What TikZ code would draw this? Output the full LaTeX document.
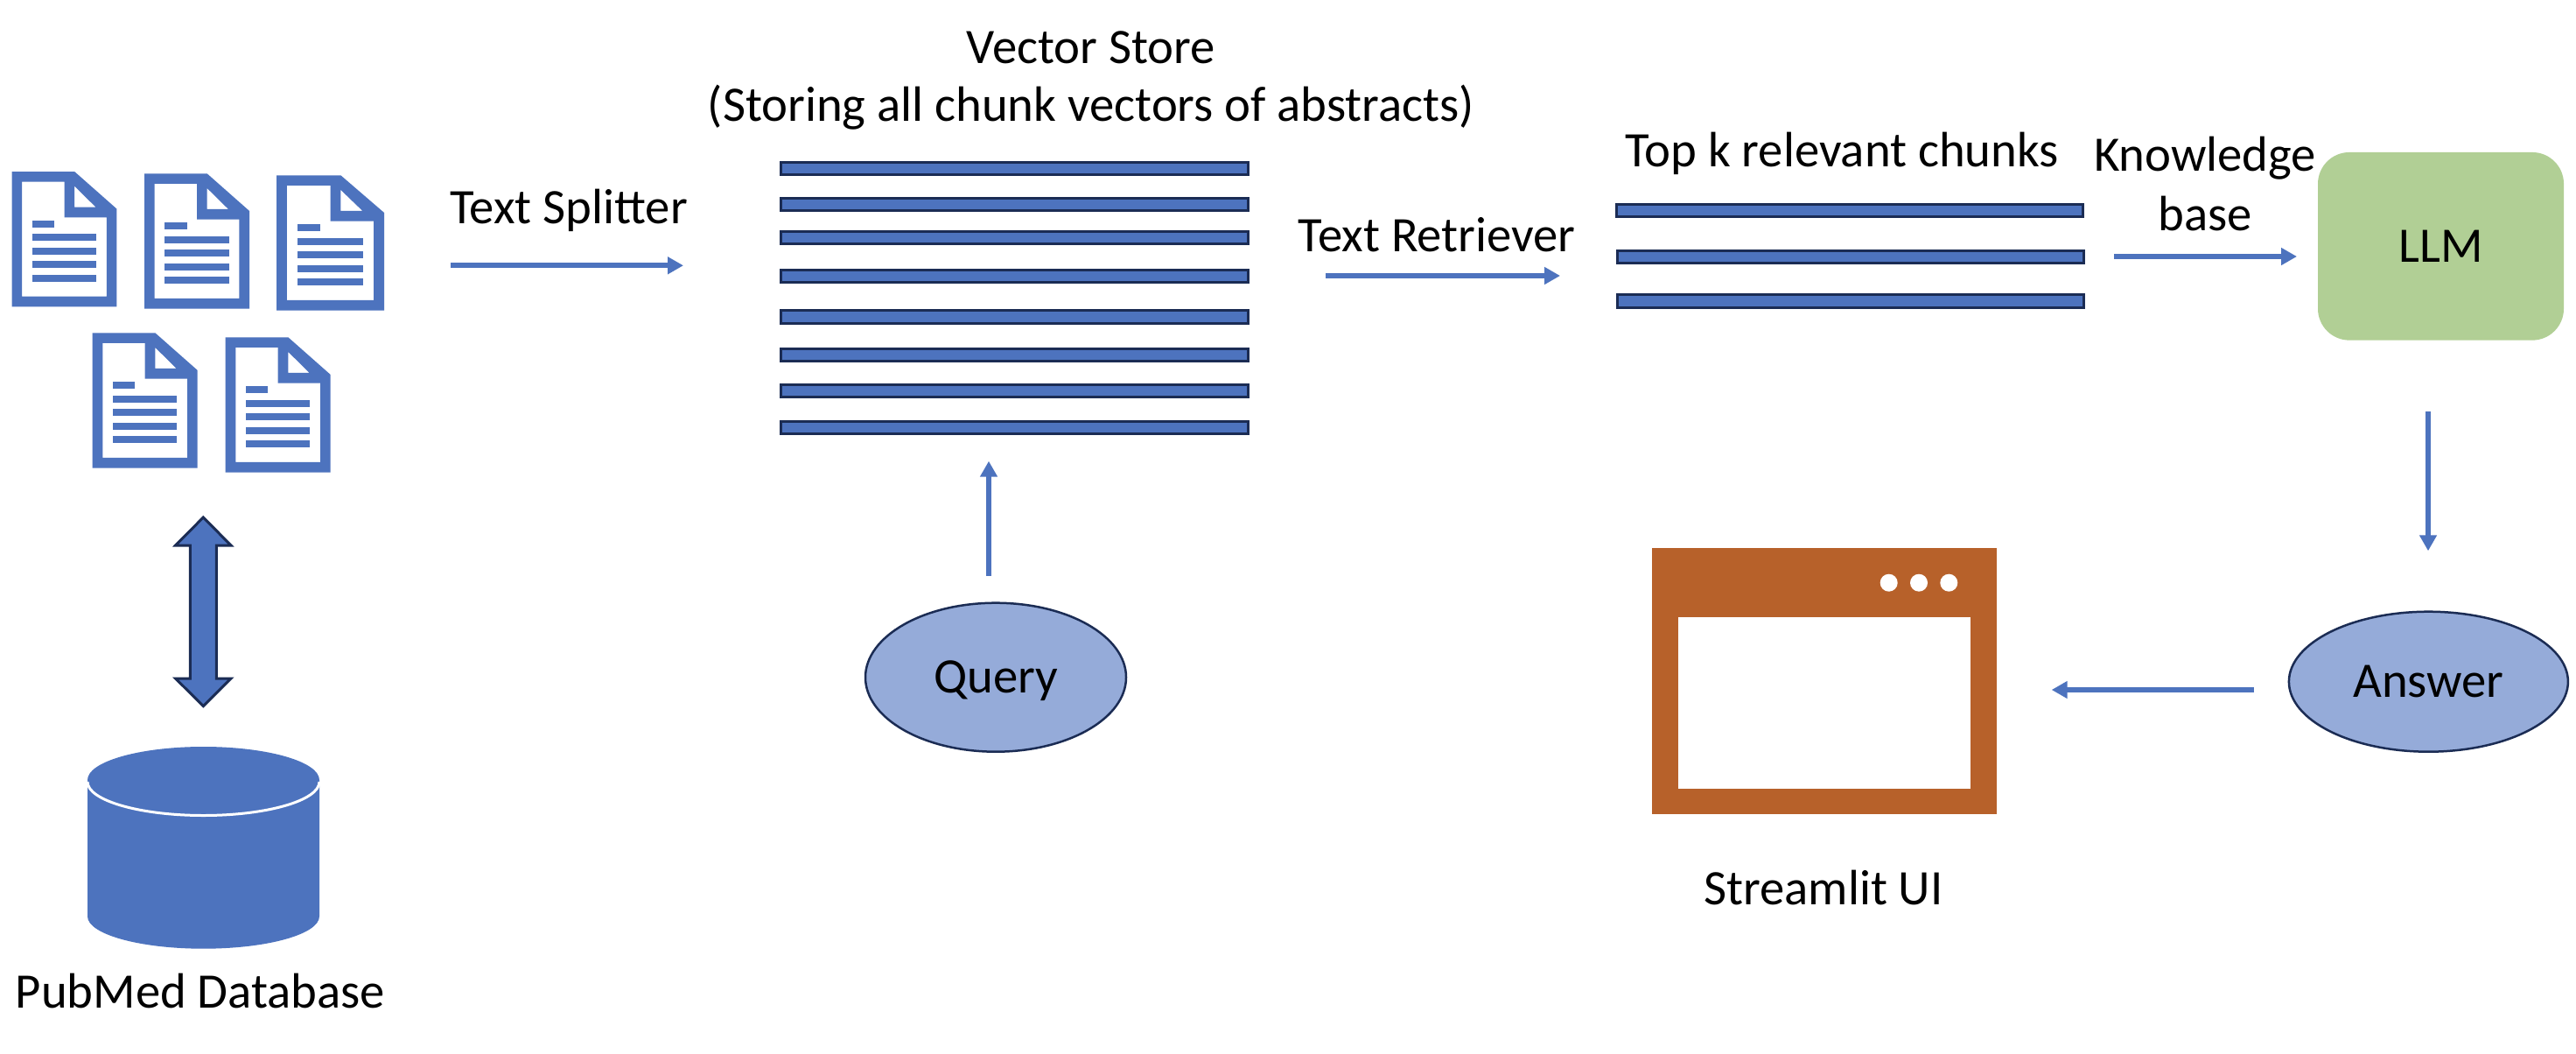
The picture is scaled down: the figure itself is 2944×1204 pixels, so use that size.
\documentclass[tikz,border=0pt]{standalone}
\usepackage{fontspec}
\setmainfont{Carlito}
\usetikzlibrary{arrows.meta,shapes.geometric}
\definecolor{fillblue}{HTML}{4D73BE}
\definecolor{darkedge}{HTML}{1B2C54}
\definecolor{paleblue}{HTML}{95ABD9}
\definecolor{llmgreen}{HTML}{B1CF95}
\definecolor{uibrown}{HTML}{B7612A}
\tikzset{
  lbl/.style={anchor=base,inner sep=0pt,text=black,font=\fontsize{56.7}{67}\selectfont},
  chunkbar/.style={draw=darkedge,line width=2.8pt,fill=fillblue,rectangle,inner sep=0pt,minimum width=534pt,minimum height=14.5pt},
  flow/.style={draw=fillblue,line width=6pt,-{Triangle[length=18pt,width=19pt]}},
  bubble/.style={ellipse,draw=darkedge,line width=2.5pt,fill=paleblue,inner sep=0pt,text=black,font=\fontsize{56.7}{67}\selectfont,text height=36pt,text depth=0pt},
  docicon/.pic={
    \begin{scope}[x=.33333pt,y=-.33333pt]
      \fill[fillblue,even odd rule] (0,0)--(215,0)--(360,128)--(360,463)--(0,463)--cycle
        (35,35)--(180,35)--(180,157)--(325,157)--(325,428)--(35,428)--cycle
        (215,50)--(215,122)--(288,122)--cycle;
      \fill[fillblue] (70,168) rectangle (146,192);
      \foreach \yy in {214,261,307,353}{\fill[fillblue] (70,\yy) rectangle (290,\yy+24);}
    \end{scope}
  }
}
\begin{document}
\begin{tikzpicture}[x=1pt,y=-1pt]
\useasboundingbox (0,0) rectangle (2944,1204);
\fill[white] (0,0) rectangle (2944,1204);

% document icons
\pic at (13.5,196) {docicon};
\pic at (165,198.3) {docicon};
\pic[xscale=1.025] at (316,200.3) {docicon};
\pic at (105.7,380.3) {docicon};
\pic at (257.7,385.3) {docicon};

% double arrow
\draw[fill=fillblue,draw=darkedge,line width=3pt,miter limit=10]
  (232.3,591)--(264,623)--(247.3,623)--(247.3,775)--(264,775)--(232.3,806.6)
  --(200.6,775)--(217.3,775)--(217.3,623)--(200.6,623)--cycle;

% database
\fill[fillblue] (100,891) -- (365,891)
  -- (365,1046.7) arc[start angle=0,end angle=180,x radius=132.5,y radius=37] -- cycle;
\fill[fillblue] (232.5,891) ellipse[x radius=132.5,y radius=38];
\draw[white,line width=3pt] (100,893) arc[start angle=180,end angle=360,x radius=132.5,y radius=-38.5];
\node[lbl] (pubmed) at (229,1151) {PubMed Database};

% vector store
\node[lbl] (vstitle) at (1247,73) {Vector Store};
\node[lbl] (vssub) at (1247,139) {(Storing all chunk vectors of abstracts)};
\node[chunkbar] (v1) at (1159.5,192.5) {};
\node[chunkbar] (v2) at (1159.5,233.5) {};
\node[chunkbar] (v3) at (1159.5,271.5) {};
\node[chunkbar] (v4) at (1159.5,315.5) {};
\node[chunkbar,minimum height=15.5pt] (v5) at (1159.5,362) {};
\node[chunkbar] (v6) at (1159.5,405.5) {};
\node[chunkbar] (v7) at (1159.5,446.5) {};
\node[chunkbar] (v8) at (1159.5,488.5) {};

% top k
\node[lbl] (topk) at (2105,190) {Top k relevant chunks};
\node[chunkbar,minimum width=533pt] (t1) at (2114,240.5) {};
\node[chunkbar,minimum width=533pt] (t2) at (2115,293.5) {};
\node[chunkbar,minimum width=533pt,minimum height=15.5pt] (t3) at (2115,344) {};

% labels
\node[lbl] (splitter) at (650,255.7) {Text Splitter};
\node[lbl] (retriever) at (1642,287.7) {Text Retriever};
\node[lbl] (know) at (2520,195) {Knowledge};
\node[lbl] (kbase) at (2520,263) {base};

% LLM, Query, Answer
\node[rectangle,rounded corners=36pt,fill=llmgreen,minimum width=281pt,minimum height=214.7pt,inner sep=0pt,text=black,font=\fontsize{56.7}{67}\selectfont,text height=36pt,text depth=0pt] (llm) at (2789.5,281.3) {LLM};
\node[bubble,minimum width=298pt,minimum height=170pt] (query) at (1138,773.7) {Query};
\node[bubble,minimum width=319pt,minimum height=160pt] (answer) at (2775.4,778.7) {Answer};

% window
\fill[uibrown] (1888.3,626.3) rectangle (2281.7,930.3);
\fill[white] (1917.7,705) rectangle (2252.3,901);
\foreach \xx in {2158.7,2193,2227.3}{\fill[white] (\xx,665.7) circle[radius=10];}
\node[lbl] (streamlit) at (2084,1033) {Streamlit UI};

% connectors
\coordinate (a1s) at (515,303.3); \coordinate (a1e) at (781,303.3);
\coordinate (a2s) at (1515,315); \coordinate (a2e) at (1783,315);
\coordinate (a3s) at (2416,293); \coordinate (a3e) at (2625,293);
\coordinate (a4s) at (1130,657.7); \coordinate (a4e) at (1130,526.7);
\coordinate (a5s) at (2775,470); \coordinate (a5e) at (2775,629.3);
\coordinate (a6s) at (2576,788); \coordinate (a6e) at (2344.7,788);
\draw[flow] (a1s) -- (a1e);
\draw[flow] (a2s) -- (a2e);
\draw[flow] (a3s) -- (a3e);
\draw[flow] (a4s) -- (a4e);
\draw[flow] (a5s) -- (a5e);
\draw[flow] (a6s) -- (a6e);
\end{tikzpicture}
\end{document}
